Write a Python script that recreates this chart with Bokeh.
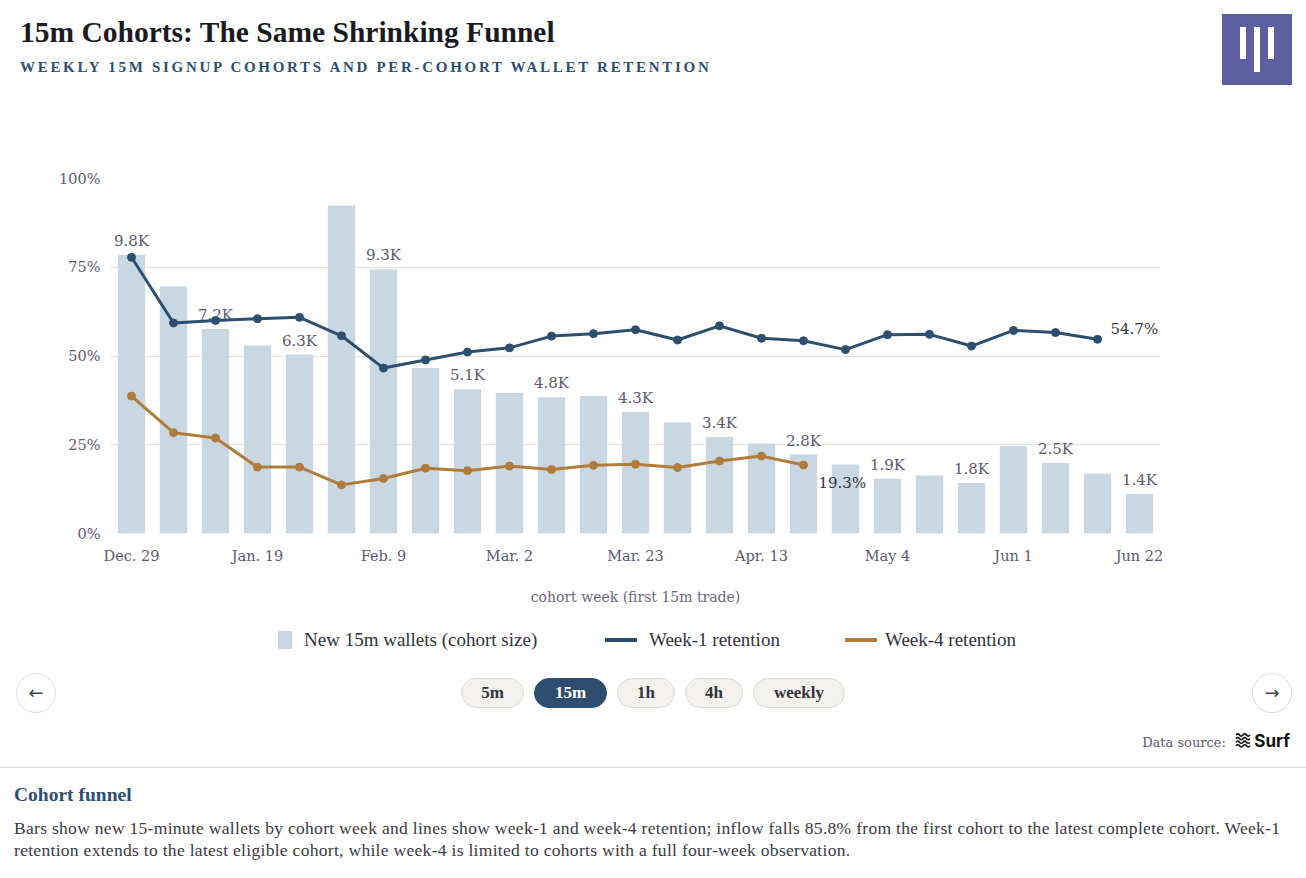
from bokeh.plotting import figure
from bokeh.models import (Range1d, FixedTicker, NumeralTickFormatter, ColumnDataSource, Div)
from bokeh.layouts import column
from bokeh.core.properties import value
from bokeh.embed import file_html
from bokeh.resources import INLINE

# ---------------- data ----------------
weeks = ["Dec. 29", "Jan. 5", "Jan. 12", "Jan. 19", "Jan. 26", "Feb. 2", "Feb. 9",
         "Feb. 16", "Feb. 23", "Mar. 2", "Mar. 9", "Mar. 16", "Mar. 23", "Mar. 30",
         "Apr. 6", "Apr. 13", "Apr. 20", "Apr. 27", "May 4", "May 11", "May 18",
         "Jun 1", "Jun 8", "Jun 15", "Jun 22"]
tick_weeks = ["Dec. 29", "Jan. 19", "Feb. 9", "Mar. 2", "Mar. 23", "Apr. 13",
              "May 4", "Jun 1", "Jun 22"]
new_wallets = [9810, 8700, 7200, 6620, 6300, 11550, 9300, 5830, 5080, 4950, 4800,
               4840, 4280, 3920, 3400, 3170, 2780, 2430, 1930, 2040, 1780, 3070,
               2480, 2100, 1390]
week1_ret = [77.8, 59.3, 60.0, 60.5, 60.9, 55.7, 46.6, 48.9, 51.1, 52.3, 55.6, 56.3,
             57.4, 54.5, 58.5, 55.0, 54.3, 51.8, 56.0, 56.1, 52.8, 57.2, 56.6, 54.7]
week4_ret = [38.7, 28.4, 26.9, 18.7, 18.7, 13.7, 15.5, 18.4, 17.7, 19.0, 18.0, 19.2,
             19.5, 18.6, 20.4, 21.8, 19.3]
series_names = ["New 15m wallets (cohort size)", "Week-1 retention", "Week-4 retention"]
periods = ["5m", "15m", "1h", "4h", "weekly"]
active_period = "15m"

# ---------------- style ----------------
NAVY = "#2d4e6f"
BROWN = "#b07c3a"
BAR = "#c9d7e2"
GRID = "#e6e4de"
TICK = "#5e5a6e"
SERIF = "Liberation Serif"
TSERIF = "DejaVu Serif"
W = 1306

x_idx = list(range(len(weeks)))
bar_src = ColumnDataSource(dict(x=x_idx, n=new_wallets))
lab_x = [i for i in x_idx if i % 2 == 0]
lab_src = ColumnDataSource(dict(
    x=lab_x,
    n=[new_wallets[i] for i in lab_x],
    t=[f"{new_wallets[i] / 1000:.1f}K" for i in lab_x]))
w1_src = ColumnDataSource(dict(x=x_idx[:len(week1_ret)], y=[v / 100 for v in week1_ret]))
w4_src = ColumnDataSource(dict(x=x_idx[:len(week4_ret)], y=[v / 100 for v in week4_ret]))

p = figure(width=W, height=515, x_range=Range1d(-0.5, len(weeks) - 0.5),
           y_range=Range1d(0, 1), output_backend="svg", toolbar_location=None,
           min_border_left=110, min_border_right=146, min_border_top=78,
           min_border_bottom=82)
p.outline_line_color = None
p.background_fill_color = "white"
p.border_fill_color = "white"
p.extra_y_ranges = {"size": Range1d(0, 12500)}

bars = p.vbar(x="x", top="n", width=0.65, source=bar_src, y_range_name="size",
              fill_color=BAR, line_color=None)
p.text(x="x", y="n", text="t", source=lab_src, y_range_name="size",
       text_align="center", text_baseline="bottom", y_offset=-5,
       text_font=value(TSERIF), text_font_size="15px", text_color=TICK)

l1 = p.line(x="x", y="y", source=w1_src, line_color=NAVY, line_width=3)
p.scatter(x="x", y="y", source=w1_src, size=8, fill_color=NAVY, line_color=NAVY)
l4 = p.line(x="x", y="y", source=w4_src, line_color=BROWN, line_width=3)
p.scatter(x="x", y="y", source=w4_src, size=8, fill_color=BROWN, line_color=BROWN)

end1 = ColumnDataSource(dict(x=[len(week1_ret) - 1], y=[week1_ret[-1] / 100],
                             t=[f"{week1_ret[-1]:.1f}%"]))
end4 = ColumnDataSource(dict(x=[len(week4_ret) - 1], y=[week4_ret[-1] / 100],
                             t=[f"{week4_ret[-1]:.1f}%"]))
p.text(x="x", y="y", text="t", source=end1, x_offset=13, y_offset=-10,
       text_align="left", text_baseline="middle", text_font=value(TSERIF),
       text_font_size="15px", text_color="#34343c")
p.text(x="x", y="y", text="t", source=end4, x_offset=15, y_offset=18,
       text_align="left", text_baseline="middle", text_font=value(TSERIF),
       text_font_size="15px", text_color="#34343c")

# axes
p.xgrid.grid_line_color = None
p.ygrid.grid_line_color = GRID
p.ygrid.grid_line_width = 1

p.yaxis.ticker = FixedTicker(ticks=[0, 0.25, 0.5, 0.75, 1.0])
p.yaxis.formatter = NumeralTickFormatter(format="0%")
p.xaxis.ticker = FixedTicker(ticks=[weeks.index(w) for w in tick_weeks])
p.xaxis.major_label_overrides = {weeks.index(w): w for w in tick_weeks}
for ax in (p.xaxis, p.yaxis):
    ax.axis_line_color = None
    ax.major_tick_line_color = None
    ax.minor_tick_line_color = None
    ax.major_tick_out = 0
    ax.major_tick_in = 0
    ax.major_label_text_font = TSERIF
    ax.major_label_text_font_size = "14.5px"
    ax.major_label_text_color = TICK
p.yaxis.major_label_standoff = 10
p.xaxis.major_label_standoff = 14
p.xaxis.axis_label = "cohort week (first 15m trade)"
p.xaxis.axis_label_text_font = TSERIF
p.xaxis.axis_label_text_font_style = "normal"
p.xaxis.axis_label_text_font_size = "14px"
p.xaxis.axis_label_text_color = "#6b6878"
p.xaxis.axis_label_standoff = 22

# ---------------- header ----------------
header_html = f"""
<div style="position:relative;width:{W}px;height:100px;">
  <div style="position:absolute;left:20px;top:14px;font-family:'{SERIF}';font-weight:bold;
       font-size:29.5px;line-height:36px;color:#1b1b1f;white-space:nowrap;">
       15m Cohorts: The Same Shrinking Funnel</div>
  <div style="position:absolute;left:20px;top:58px;font-family:'{SERIF}';font-weight:bold;
       font-size:15px;line-height:18px;letter-spacing:2.7px;color:{NAVY};white-space:nowrap;">
       WEEKLY 15M SIGNUP COHORTS AND PER-COHORT WALLET RETENTION</div>
  <div style="position:absolute;left:1222px;top:14px;width:70px;height:71px;background:#5d609f;">
    <div style="position:absolute;left:18px;top:13px;width:6px;height:32px;background:#fff;"></div>
    <div style="position:absolute;left:32px;top:13px;width:6px;height:45px;background:#fff;"></div>
    <div style="position:absolute;left:46px;top:13px;width:6px;height:32px;background:#fff;"></div>
  </div>
</div>
"""
header = Div(text=header_html, width=W, height=100, margin=0)

# ---------------- legend ----------------
leg_swatch = [
    f'<div style="position:absolute;left:278px;top:16px;width:14px;height:18px;background:{BAR};"></div>',
    f'<div style="position:absolute;left:605px;top:23px;width:32px;height:4px;background:{NAVY};"></div>',
    f'<div style="position:absolute;left:845px;top:23px;width:32px;height:4px;background:{BROWN};"></div>',
]
leg_text_left = [304, 649, 885]
leg_html = f'<div style="position:relative;width:{W}px;height:45px;">' + "".join(
    leg_swatch[i] +
    f'<div style="position:absolute;left:{leg_text_left[i]}px;top:13px;font-family:\'{SERIF}\';'
    f'font-size:19px;line-height:24px;color:#33333b;white-space:nowrap;">{series_names[i]}</div>'
    for i in range(3)) + '</div>'
legend_div = Div(text=leg_html, width=W, height=45, margin=0)

# ---------------- controls ----------------
btn_w = {"5m": 63, "15m": 73, "1h": 58, "4h": 58, "weekly": 92}
btns = ""
for per in periods:
    act = per == active_period
    bg = NAVY if act else "#f2f1ed"
    fg = "#ffffff" if act else "#34343c"
    bd = NAVY if act else "#dddbd4"
    btns += (f'<div style="box-sizing:border-box;width:{btn_w[per]}px;height:30px;'
             f'border:1px solid {bd};border-radius:15px;background:{bg};color:{fg};'
             f'font-family:\'{SERIF}\';font-weight:bold;font-size:17px;line-height:28px;'
             f'text-align:center;">{per}</div>')
circle = ("box-sizing:border-box;position:absolute;top:13px;width:40px;height:40px;"
          "border:1px solid #dcdad4;border-radius:50%;background:#fff;color:#444;"
          "font-family:'DejaVu Sans';font-size:18px;line-height:37px;text-align:center;")
surf_icon = ('<svg width="16" height="16" viewBox="0 0 16 16" style="vertical-align:-2px;">'
             + "".join(f'<path d="M1 {2+i*3.6} q2 -2.2 3.5 0 t3.5 0 t3.5 0 t3.5 0" '
                       f'stroke="#111" stroke-width="1.6" fill="none"/>' for i in range(4))
             + '</svg>')
controls_html = f"""
<div style="position:relative;box-sizing:border-box;width:{W}px;height:108px;
     border-bottom:1px solid #dddad3;">
  <div style="{circle}left:16px;">&#8592;</div>
  <div style="{circle}left:1252px;">&#8594;</div>
  <div style="position:absolute;left:0;width:{W}px;top:18px;display:flex;
       justify-content:center;gap:10px;">{btns}</div>
  <div style="position:absolute;right:16px;top:71px;white-space:nowrap;line-height:20px;">
    <span style="font-family:'{TSERIF}';font-size:13px;color:{TICK};">Data source:</span>
    <span style="margin-left:6px;">{surf_icon}</span><span style="font-family:'Inter';
      font-weight:bold;font-size:17px;color:#111;margin-left:3px;">Surf</span>
  </div>
</div>
"""
controls = Div(text=controls_html, width=W, height=108, margin=0)

# ---------------- footer ----------------
footer_html = f"""
<div style="position:relative;width:{W}px;height:110px;font-family:'{SERIF}';">
  <div style="position:absolute;left:14px;top:15px;font-weight:bold;font-size:19.5px;
       line-height:24px;color:{NAVY};white-space:nowrap;">Cohort funnel</div>
  <div style="position:absolute;left:14px;top:49px;font-size:17.5px;line-height:22px;
       letter-spacing:0.3px;color:#3a3a42;white-space:nowrap;">
    Bars show new 15-minute wallets by cohort week and lines show week-1 and week-4 retention; inflow falls 85.8% from the first cohort to the latest complete cohort. Week-1<br>
    retention extends to the latest eligible cohort, while week-4 is limited to cohorts with a full four-week observation.
  </div>
</div>
"""
footer = Div(text=footer_html, width=W, height=110, margin=0)

layout = column(header, p, legend_div, controls, footer, spacing=0)
open("out.html", "w").write(file_html(layout, INLINE))
